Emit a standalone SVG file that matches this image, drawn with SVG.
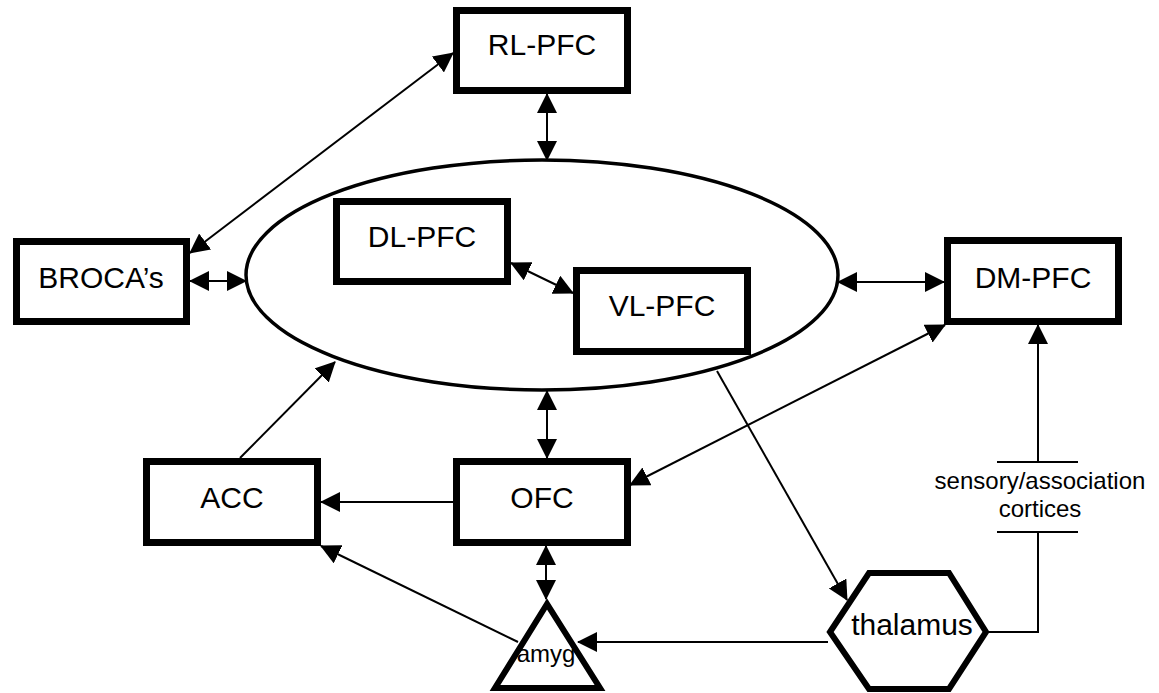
<svg xmlns="http://www.w3.org/2000/svg" width="1159" height="693" viewBox="0 0 1159 693">
<style>
.box{fill:#fff;stroke:#000;stroke-width:7;stroke-linejoin:miter}
.lbl{font-family:"Liberation Sans",Arial,sans-serif;font-size:30px;fill:#000;text-anchor:middle}
.sm{font-size:24px}
.c{fill:none;stroke:#000;stroke-width:2}
.a{marker-end:url(#ah)}
.d{marker-start:url(#ah);marker-end:url(#ah)}
</style>
<defs>
<marker id="ah" markerUnits="userSpaceOnUse" markerWidth="20" markerHeight="20" refX="19" refY="10" orient="auto-start-reverse" viewBox="0 0 20 20">
<path d="M0,0 L20,10 L0,20 z" fill="#000"/>
</marker>
</defs>
<rect width="1159" height="693" fill="#fff"/>
<g id="pfc-ellipse"><ellipse cx="542" cy="275" rx="296" ry="115" fill="#fff" stroke="#000" stroke-width="3.5"/></g>
<g id="connectors">
<line class="c d" x1="453" y1="53" x2="190" y2="253"/>
<line class="c d" x1="547" y1="94" x2="547" y2="160"/>
<line class="c d" x1="190" y1="281" x2="246" y2="281"/>
<line class="c d" x1="511" y1="263" x2="573" y2="293"/>
<line class="c d" x1="838" y1="282" x2="944" y2="282"/>
<line class="c d" x1="547" y1="391" x2="547" y2="458"/>
<line class="c d" x1="630" y1="485" x2="945" y2="325"/>
<line class="c d" x1="546" y1="546" x2="546" y2="599"/>
<line class="c a" x1="453" y1="502" x2="321" y2="502"/>
<line class="c a" x1="240" y1="458" x2="335" y2="362"/>
<line class="c a" x1="518" y1="642" x2="321" y2="546"/>
<line class="c a" x1="828" y1="642" x2="578" y2="642"/>
<line class="c a" x1="717" y1="371" x2="847" y2="600"/>
<polyline class="c" points="988,632 1038,632 1038,532"/>
<line class="c" x1="997" y1="532" x2="1078" y2="532"/>
<line class="c" x1="997" y1="462" x2="1078" y2="462"/>
<line class="c a" x1="1038" y1="462" x2="1038" y2="325"/>
<text class="lbl sm" x="1040" y="489">sensory/association</text>
<text class="lbl sm" x="1040" y="517">cortices</text>
</g>
<g id="rl-pfc"><rect class="box" x="456.5" y="10.5" width="171" height="80"/><text class="lbl" x="542" y="55">RL-PFC</text></g>
<g id="brocas"><rect class="box" x="16.5" y="241.5" width="170" height="80"/><text class="lbl" x="101" y="288">BROCA’s</text></g>
<g id="dl-pfc"><rect class="box" x="336.5" y="201.5" width="171" height="80"/><text class="lbl" x="422" y="247">DL-PFC</text></g>
<g id="vl-pfc"><rect class="box" x="576.5" y="270.5" width="171" height="81"/><text class="lbl" x="662" y="316">VL-PFC</text></g>
<g id="dm-pfc"><rect class="box" x="947.5" y="240.5" width="171" height="81"/><text class="lbl" x="1033" y="288">DM-PFC</text></g>
<g id="acc"><rect class="box" x="146.5" y="461.5" width="171" height="81"/><text class="lbl" x="232" y="508">ACC</text></g>
<g id="ofc"><rect class="box" x="456.5" y="461.5" width="171" height="81"/><text class="lbl" x="542" y="508">OFC</text></g>
<g id="amyg"><polygon points="547,604 495,688 600,688" fill="#fff" stroke="#000" stroke-width="6"/><text class="lbl sm" x="546" y="662">amyg</text></g>
<g id="thalamus"><polygon points="830,632 869,573 949,573 986,632 949,689 869,689" fill="#fff" stroke="#000" stroke-width="6"/><text class="lbl" x="912" y="635">thalamus</text></g>
</svg>
